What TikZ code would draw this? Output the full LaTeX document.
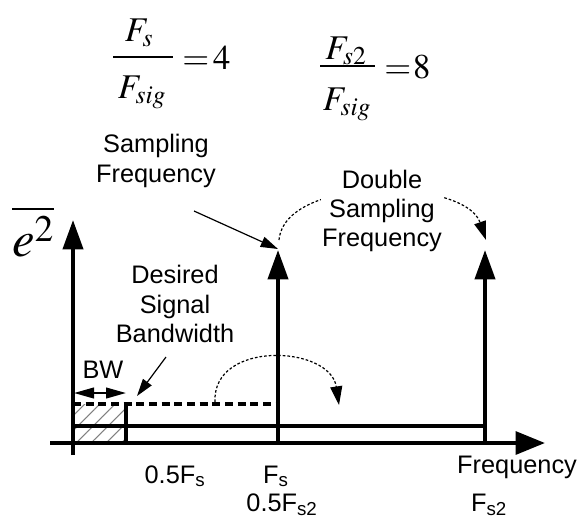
\documentclass[tikz,border=0pt]{standalone}
\usepackage{mathptmx}
\usepackage[no-math]{fontspec}
\setmainfont{Liberation Sans}
\usetikzlibrary{arrows.meta,patterns.meta}

\begin{document}
\begin{tikzpicture}[x=0.75pt,y=-0.75pt,
    font=\fontsize{19}{22}\selectfont,
    axis/.style={line width=3pt},
    bigtip/.style={-{Triangle[length=22pt,width=15pt]}},
    thintip/.style={line width=0.9pt,-{Triangle[length=13pt,width=8pt]}},
    dotline/.style={line width=0.9pt,dash pattern=on 2pt off 1.5pt,
        -{Triangle[length=14pt,width=9pt]}},
    mathbig/.style={anchor=base,inner sep=0pt,font=\fontsize{26}{30}\selectfont},
    fracbar/.style={line width=1.1pt}]
    \useasboundingbox (0,0) rectangle (580,519);

    % Ratios.
    \node[mathbig] (fs-num) at (139,41) {$F_s$};
    \draw[fracbar] (113,57) -- (173,57);
    \node[mathbig] (fs-den) at (142,98) {$F_{sig}$};
    \node[mathbig,anchor=base west] (fs-eq) at (182,69) {$=\mkern-2mu4$};
    \node[mathbig] (fs2-num) at (346,59) {$F_{s2}$};
    \draw[fracbar] (320,66) -- (375,66);
    \node[mathbig] (fs2-den) at (347,110) {$F_{sig}$};
    \node[mathbig,anchor=base west] (fs2-eq) at (384,78) {$=\mkern-3mu8$};

    % Band of interest.
    \fill[pattern={Lines[angle=45,distance=8pt,line width=0.8pt]},
        pattern color=gray] (73,404) rectangle (126,443);
    \draw[line width=2.5pt,dash pattern=on 6pt off 3.5pt] (73,404) -- (278,404);
    \draw[line width=2.5pt] (126,404) -- (126,443);
    \draw[line width=2.5pt] (73,426) -- (485,426);
    \coordinate (bw-left) at (74,393);
    \coordinate (bw-right) at (126,393);
    \draw[line width=1.5pt,{Triangle[length=15pt,width=8pt]}-{Triangle[length=15pt,width=8pt]}]
        (bw-left) -- (bw-right);
    \node (bw-label) at (103,370) {BW};

    % Axes.
    \draw[axis,-{Triangle[length=22pt,width=17pt]}] (50,443) -- (545,443);
    \draw[axis,bigtip] (73,455) -- (73,220);
    \node[anchor=base,font=\fontsize{38}{42}\selectfont] (noise-label)
        at (33,256) {$\overline{e^2}$};

    % Sampling tones.
    \foreach \xx/\name in {278/fs,485/fs2}{
        \draw[axis,bigtip] (\xx,443) -- (\xx,250);
        \coordinate (\name-peak) at (\xx+1,240);
    }

    % Labels under the axis.
    \node[anchor=base] (half-fs) at (175,483) {0.5F\textsubscript{s}};
    \node[anchor=base] (fs-label) at (276,483) {F\textsubscript{s}};
    \node[anchor=base] (half-fs2) at (282,511) {0.5F\textsubscript{s2}};
    \node[anchor=base] (freq-label) at (517,473) {Frequency};
    \node[anchor=base] (fs2-label) at (489,511) {F\textsubscript{s2}};

    % Callouts.
    \node[align=center] (samp-label) at (156,161) {Sampling\\Frequency};
    \coordinate (samp-tail) at (194,211);
    \draw[thintip] (samp-tail) -- (278,249);
    \node[align=center] (band-label) at (175,304) {Desired\\Signal\\Bandwidth};
    \coordinate (band-tail) at (166,357);
    \coordinate (band-edge) at (137,396);
    \draw[thintip] (band-tail) -- (band-edge);
    \coordinate (fold-start) at (215,402);
    \coordinate (fold-end) at (339,405);
    \draw[dotline] (fold-start) .. controls (212,340) and (330,345) .. (fold-end);
    \draw[dotline] (fs-peak) .. controls (285,175) and (465,178) .. (fs2-peak);
    \node[align=center,fill=white,inner sep=1pt] (double-label) at (382,211)
        {Double\\Sampling\\Frequency};
\end{tikzpicture}
\end{document}
